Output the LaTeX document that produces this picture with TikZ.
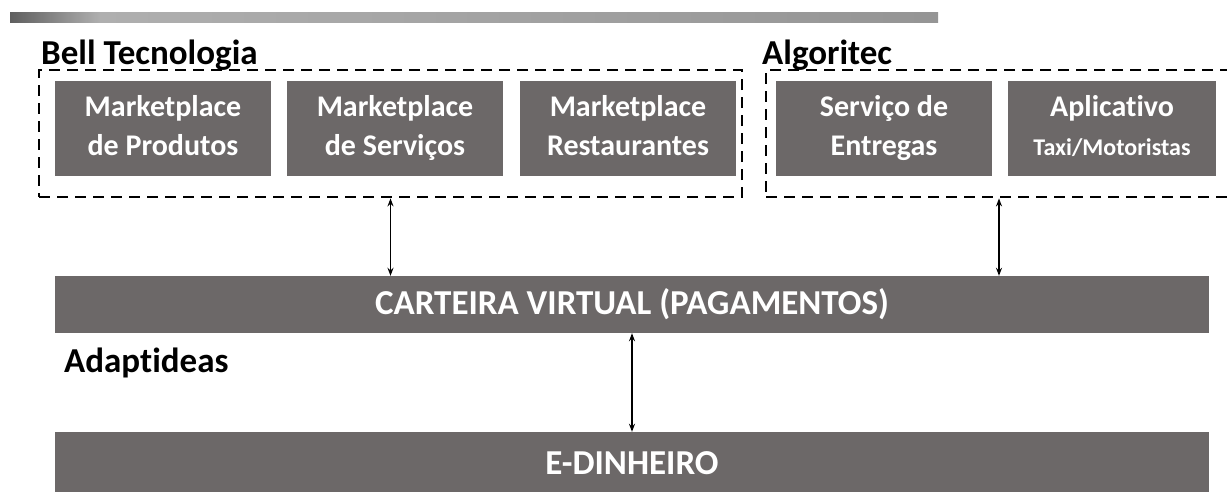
\documentclass[tikz,border=0pt]{standalone}
\usepackage{fontspec}
\setmainfont{Carlito}[Ligatures=NoCommon]
\usetikzlibrary{arrows.meta}
\definecolor{caixa}{RGB}{108,104,104}
\definecolor{faixaesc}{RGB}{95,95,95}
\definecolor{faixaclr}{RGB}{175,175,175}
\newcommand{\duaslinhas}[2]{\strut#1\\\strut#2}
\tikzset{
	modulo/.style={fill=caixa, text=white, font=\fontsize{30}{39}\selectfont\bfseries, align=center, inner sep=0pt, minimum width=216pt, minimum height=95pt},
	grupo/.style={draw, line width=2.8pt, dash pattern=on 11pt off 7pt, inner sep=0pt, minimum height=127pt},
	barra/.style={fill=caixa, text=white, font=\fontsize{35}{40}\selectfont\bfseries, inner sep=0pt, minimum width=1154pt},
	titulo/.style={font=\fontsize{35}{40}\selectfont\bfseries, anchor=base west, inner sep=0pt},
	seta/.style={{Stealth[length=8pt,width=6pt]}-{Stealth[length=8pt,width=6pt]}, line width=1.4pt}
}
\begin{document}
\begin{tikzpicture}[x=1pt, y=-1pt]
	\useasboundingbox (0, 0) rectangle (1227, 491);
	\clip (0, 0) rectangle (1227, 491);
	\fill[white] (0, 0) rectangle (1227, 491);

	% faixa do topo
	\shade[left color=faixaesc, right color=faixaclr] (10, 12) rectangle (100, 22);
	\shade[left color=faixaclr, right color=faixaclr!85!black] (100, 12) rectangle (938, 22);

	% grupos
	\node[grupo, minimum width=703pt] (bell) at (390.5, 133.5) {};
	\node[grupo, minimum width=466pt] (algo) at (999, 133.5) {};
	\node[titulo] (tbell) at (41, 64) {Bell Tecnologia};
	\node[titulo] (talgo) at (762, 64) {Algoritec};

	\node[modulo] (prod) at (163, 128.5) {\duaslinhas{Marketplace}{de Produtos}};
	\node[modulo] (serv) at (395, 128.5) {\duaslinhas{Marketplace}{de Serviços}};
	\node[modulo] (rest) at (628, 128.5) {\duaslinhas{Marketplace}{Restaurantes}};
	\node[modulo] (entr) at (884, 128.5) {\duaslinhas{Serviço de}{Entregas}};
	\node[modulo, minimum width=208pt] (taxi) at (1112, 128.5) {\duaslinhas{Aplicativo}{\fontsize{24}{30}\selectfont Taxi/Motoristas}};

	% barras
	\node[barra, minimum height=57pt] (carteira) at (632, 304.5) {CARTEIRA VIRTUAL (PAGAMENTOS)};
	\node[barra, minimum height=63pt] (dinheiro) at (632, 463.5) {E-DINHEIRO};
	\node[titulo] (tadapt) at (64, 372) {Adaptideas};

	% setas
	\draw[seta] (bell.south) -- (bell.south |- carteira.north);
	\draw[seta] (algo.south) -- (algo.south |- carteira.north);
	\draw[seta] (carteira.south) -- (dinheiro.north);
\end{tikzpicture}
\end{document}
